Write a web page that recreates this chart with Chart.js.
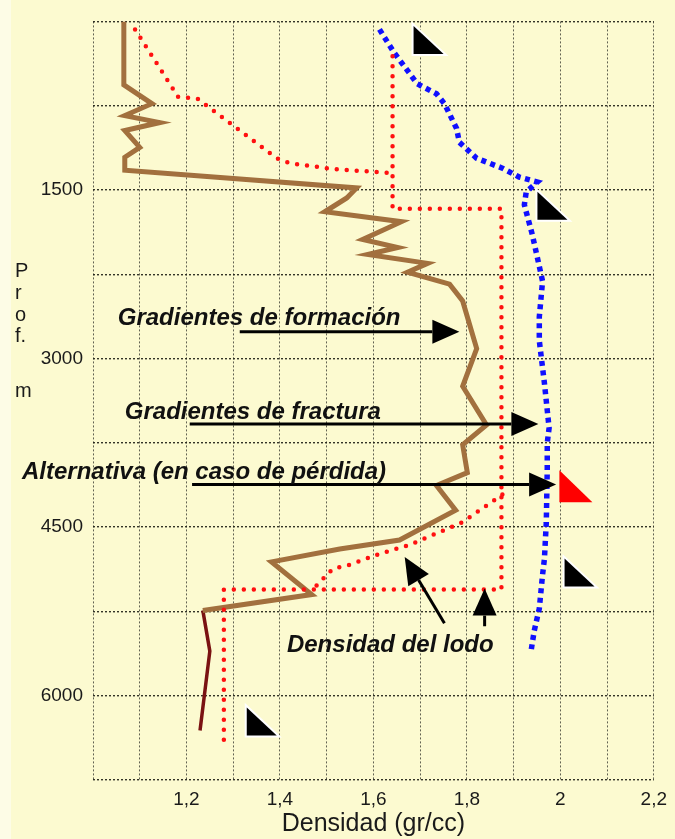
<!DOCTYPE html>
<html>
<head>
<meta charset="utf-8">
<script src="https://cdn.jsdelivr.net/npm/chart.js@4/dist/chart.umd.min.js"></script>
<style>
  html, body { margin: 0; padding: 0; background: #fcfad2; }
  #wrap { width: 675px; height: 839px; }
</style>
</head>
<body>
<div id="wrap"><canvas id="chart" width="675" height="839"></canvas></div>
<script>
"use strict";

// Gradiente de formación (marrón), densidad gr/cc vs profundidad m
const formacionDens = [1.066, 1.066, 1.126, 1.068, 1.143, 1.068, 1.100, 1.068, 1.068, 1.564, 1.543, 1.496,
  1.660, 1.577, 1.652, 1.588, 1.716, 1.673, 1.763, 1.791, 1.821, 1.791, 1.842, 1.791, 1.801, 1.735,
  1.776, 1.656, 1.528, 1.382, 1.468, 1.235];
const formacionProf = [0, 565, 732, 838, 900, 971, 1121, 1209, 1324, 1482, 1571, 1694,
  1782, 1941, 2012, 2074, 2153, 2232, 2338, 2488, 2912, 3247, 3591, 3768, 4015, 4129,
  4350, 4615, 4694, 4809, 5100, 5241];

// Tramo final (rojo oscuro)
const fondoDens = [1.235, 1.250, 1.229];
const fondoProf = [5241, 5603, 6309];

// Gradiente de fractura (azul)
const fracturaDens = [1.613, 1.645, 1.694, 1.735, 1.752, 1.778, 1.784, 1.821, 1.876, 1.912, 1.951, 1.927,
  1.923, 1.940, 1.962, 1.955, 1.955, 1.966, 1.976, 1.972, 1.972, 1.970, 1.966, 1.962, 1.955, 1.944, 1.938];
const fracturaProf = [71, 282, 556, 644, 732, 953, 1076, 1218, 1306, 1385, 1429, 1518,
  1632, 1897, 2312, 2629, 2841, 3221, 3618, 3750, 3988, 4456, 4782, 4924, 5224, 5426, 5585];

// Densidad del lodo (rojo punteado)
const lodoDens = [1.641, 1.641, 1.874, 1.874, 1.280, 1.280];
const lodoProf = [309, 1668, 1668, 5056, 5056, 6397];
const lodoSupDens = [1.090, 1.182, 1.224, 1.393, 1.421, 1.517, 1.641];
const lodoSupProf = [71, 671, 688, 1218, 1262, 1315, 1350];
const alternativaDens = [1.876, 1.791, 1.677, 1.613, 1.549, 1.513, 1.470];
const alternativaProf = [4209, 4456, 4659, 4738, 4835, 4871, 5056];

// Etiquetas de ejes
const xTickValues = [1.2, 1.4, 1.6, 1.8, 2.0, 2.2];
const xTickLabels = ["1,2", "1,4", "1,6", "1,8", "2", "2,2"];
const yTickValues = [1500, 3000, 4500, 6000];
const yTickLabels = ["1500", "3000", "4500", "6000"];

const pts = (xs, ys) => xs.map((v, i) => ({ x: v, y: ys[i] }));

// Anotaciones (en unidades de datos)
const BOLD_IT = "italic bold 24px 'Liberation Sans', Arial, sans-serif";
const NOTES = [
  { text: "Gradientes de formación", d: 1.053, p: 2700 },
  { text: "Gradientes de fractura", d: 1.068, p: 3540 },
  { text: "Alternativa (en caso de pérdida)", d: 0.848, p: 4068 },
  { text: "Densidad del lodo", d: 1.415, p: 5615 },
];
const ARROWS = [
  { from: [1.314, 2762], to: [1.784, 2762] },
  { from: [1.207, 3582], to: [1.953, 3582] },
  { from: [1.212, 4121], to: [1.991, 4121] },
  { from: [1.752, 5356], to: [1.667, 4765] },
  { from: [1.838, 5382], to: [1.838, 5047] },
];
const SHOES = [[1.686, 291], [1.951, 1765], [2.009, 5029], [1.329, 6353]];
const RED_SHOE = [1.998, 4279];

function arrow(ctx, x1, y1, x2, y2) {
  const a = Math.atan2(y2 - y1, x2 - x1);
  const len = 27, half = 12;
  const bx = x2 - len * Math.cos(a), by = y2 - len * Math.sin(a);
  ctx.strokeStyle = "#000";
  ctx.lineWidth = 3;
  ctx.beginPath();
  ctx.moveTo(x1, y1);
  ctx.lineTo(bx, by);
  ctx.stroke();
  ctx.fillStyle = "#000";
  ctx.beginPath();
  ctx.moveTo(x2, y2);
  ctx.lineTo(bx + half * Math.sin(a), by - half * Math.cos(a));
  ctx.lineTo(bx - half * Math.sin(a), by + half * Math.cos(a));
  ctx.closePath();
  ctx.fill();
}

function shoe(ctx, x, y, w, h, color, outline) {
  ctx.beginPath();
  ctx.moveTo(x, y - h);
  ctx.lineTo(x, y);
  ctx.lineTo(x + w, y);
  ctx.closePath();
  if (outline) {
    ctx.strokeStyle = "#fff";
    ctx.lineWidth = 4;
    ctx.lineJoin = "miter";
    ctx.stroke();
  }
  ctx.fillStyle = color;
  ctx.fill();
}

const fondo = {
  id: "fondo",
  beforeDraw(chart) {
    const ctx = chart.ctx;
    ctx.save();
    ctx.fillStyle = "#fcfad0";
    ctx.fillRect(0, 0, chart.width, chart.height);
    ctx.fillStyle = "#fdfce6";
    ctx.fillRect(0, 0, 11, chart.height);
    ctx.restore();
  },
};

const anotaciones = {
  id: "anotaciones",
  afterDatasetsDraw(chart) {
    const { ctx, scales: { x, y } } = chart;
    const px = (d) => x.getPixelForValue(d);
    const py = (p) => y.getPixelForValue(p);
    ctx.save();

    SHOES.forEach(([d, p]) => shoe(ctx, px(d), py(p), 30, 28, "#000", true));
    shoe(ctx, px(RED_SHOE[0]), py(RED_SHOE[1]), 33, 32, "#ff0000", false);

    ARROWS.forEach(a => arrow(ctx, px(a.from[0]), py(a.from[1]), px(a.to[0]), py(a.to[1])));

    ctx.fillStyle = "#111";
    ctx.textBaseline = "alphabetic";
    ctx.textAlign = "left";
    ctx.font = BOLD_IT;
    NOTES.forEach(n => ctx.fillText(n.text, px(n.d), py(n.p)));

    // Título vertical del eje Y
    ctx.font = "20px 'Liberation Sans', Arial, sans-serif";
    ctx.fillStyle = "#1a1a1a";
    [["P", 277], ["r", 299], ["o", 321], ["f.", 342], ["m", 397]].forEach(([t, yy]) => ctx.fillText(t, 15, yy));
    ctx.restore();
  },
};

new Chart(document.getElementById("chart"), {
  type: "scatter",
  data: {
    datasets: [
      {
        label: "Densidad del lodo",
        data: pts(lodoDens, lodoProf),
        borderColor: "#ff1010", borderWidth: 4.5, borderDash: [0, 10], borderCapStyle: "round",
        order: 1,
      },
      {
        label: "Lodo superior",
        data: pts(lodoSupDens, lodoSupProf),
        borderColor: "#ff1010", borderWidth: 4.5, borderDash: [0, 10], borderCapStyle: "round",
        order: 1,
      },
      {
        label: "Alternativa",
        data: pts(alternativaDens, alternativaProf),
        borderColor: "#ff1010", borderWidth: 4.5, borderDash: [0, 10], borderCapStyle: "round",
        order: 1,
      },
      {
        label: "Gradientes de fractura",
        data: pts(fracturaDens, fracturaProf),
        borderColor: "#1010ff", borderWidth: 5.5, borderDash: [5, 4.5],
        order: 2,
      },
      {
        label: "Gradientes de formación",
        data: pts(formacionDens, formacionProf),
        borderColor: "#a2703e", borderWidth: 5, borderJoinStyle: "miter",
        order: 3,
      },
      {
        label: "Fondo",
        data: pts(fondoDens, fondoProf),
        borderColor: "#7a1212", borderWidth: 3.5,
        order: 3,
      },
    ].map(ds => Object.assign({ showLine: true, pointRadius: 0, fill: false, tension: 0 }, ds)),
  },
  options: {
    responsive: false,
    animation: false,
    layout: { padding: { left: 0, right: 20, top: 15, bottom: 0 } },
    plugins: { legend: { display: false }, tooltip: { enabled: false } },
    scales: {
      x: {
        type: "linear",
        min: 1.0, max: 2.2,
        afterFit: (s) => { s.height = 59; },
        ticks: {
          stepSize: 0.1, autoSkip: false, maxRotation: 0, padding: 8,
          color: "#1a1a1a", font: { family: "'Liberation Sans', Arial, sans-serif", size: 19 },
          callback: (v) => {
            const i = xTickValues.findIndex(t => Math.abs(t - v) < 1e-6);
            return i >= 0 ? xTickLabels[i] : "";
          },
        },
        grid: { color: "rgba(70,70,60,0.85)", lineWidth: 1, drawTicks: false },
        border: { display: false, dash: [2, 2] },
        title: {
          display: true, text: "Densidad (gr/cc)", color: "#1a1a1a",
          font: { family: "'Liberation Sans', Arial, sans-serif", size: 25 },
          padding: { top: 0, bottom: 0 },
        },
      },
      y: {
        type: "linear",
        reverse: true,
        min: 0, max: 6750,
        afterFit: (s) => { s.width = 93; },
        ticks: {
          stepSize: 750, autoSkip: false, padding: 10,
          color: "#1a1a1a", font: { family: "'Liberation Sans', Arial, sans-serif", size: 19 },
          callback: (v) => {
            const i = yTickValues.indexOf(v);
            return i >= 0 ? yTickLabels[i] : "";
          },
        },
        grid: { color: "rgba(30,30,20,0.9)", lineWidth: 1.4, drawTicks: false },
        border: { display: false, dash: [2, 2] },
      },
    },
  },
  plugins: [fondo, anotaciones],
});
</script>
</body>
</html>
